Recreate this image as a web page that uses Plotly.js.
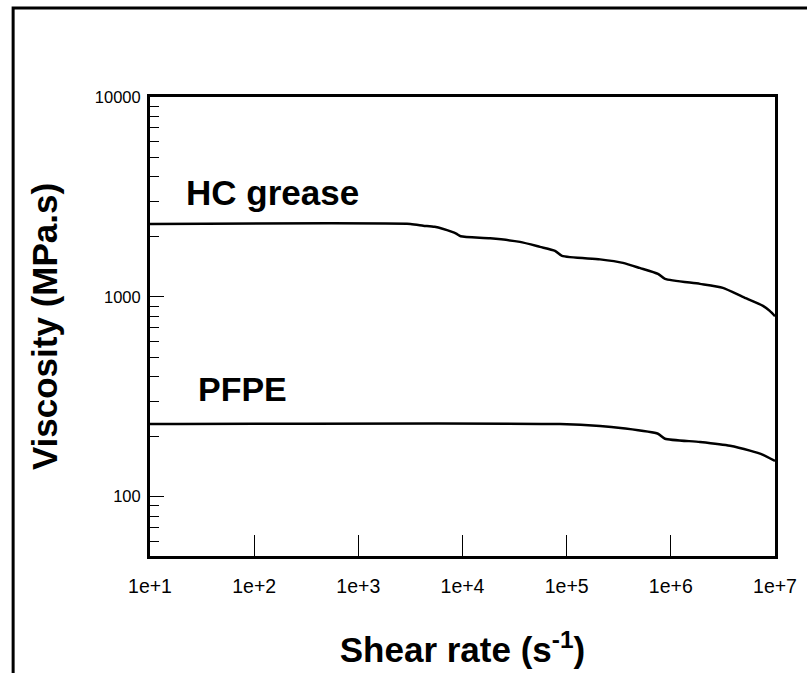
<!DOCTYPE html>
<html>
<head>
<meta charset="utf-8">
<script src="https://cdn.plot.ly/plotly-3.0.1.min.js"></script>
<style>
html,body{margin:0;padding:0;background:#fff;}
#chart{width:807px;height:673px;}
</style>
</head>
<body>
<div id="chart"></div>
<script>
// Shear rate (1/s) and viscosity (MPa.s)
const hcShear = [10, 3160, 4200, 5400, 7940, 8700, 9600, 18400, 35600, 55500, 77300, 90200, 209000, 347000, 501000, 753000, 879000, 1905000, 3160000, 4900000, 7670000, 8910000, 10000000];
const hcVisc  = [2317, 2315, 2270, 2240, 2113, 2070, 2010, 1962, 1884, 1778, 1698, 1603, 1540, 1479, 1396, 1303, 1230, 1161, 1109, 1000, 902, 851, 800];

const pfpeShear = [10, 86300, 209000, 347000, 753000, 879000, 1905000, 3700000, 5750000, 7670000, 10000000];
const pfpeVisc  = [231, 231, 226, 220, 206.5, 195, 188, 180, 170, 162, 151];

const xTickVals = [10, 100, 1000, 10000, 100000, 1000000, 10000000];
const xTickText = ['1e+1', '1e+2', '1e+3', '1e+4', '1e+5', '1e+6', '1e+7'];
const yTickVals = [100, 1000, 10000];
const yTickText = ['100', '1000', '10000'];
const yMinorVals = [60, 70, 80, 90, 200, 300, 400, 500, 600, 700, 800, 900, 2000, 3000, 4000, 5000, 6000, 7000, 8000, 9000];

const seriesLabels = ['HC grease', 'PFPE'];

const FONT = 'Liberation Sans, Arial, Helvetica, sans-serif';

const traces = [
  {x: hcShear, y: hcVisc, name: seriesLabels[0], type: 'scatter', mode: 'lines',
   line: {color: '#000', width: 2.5, shape: 'spline', smoothing: 0.6}},
  {x: pfpeShear, y: pfpeVisc, name: seriesLabels[1], type: 'scatter', mode: 'lines',
   line: {color: '#000', width: 2.5, shape: 'spline', smoothing: 0.6}}
];

const layout = {
  width: 807, height: 673,
  margin: {l: 150, r: 32, t: 97, b: 117},
  paper_bgcolor: '#fff', plot_bgcolor: '#fff',
  showlegend: false,
  font: {family: FONT, color: '#000'},
  xaxis: {
    type: 'log', range: [1, 7],
    tickmode: 'array', tickvals: xTickVals, ticktext: xTickText,
    ticks: 'inside', ticklen: 21, tickwidth: 1, tickcolor: '#000',
    showline: true, linewidth: 3, linecolor: '#000', mirror: true,
    showgrid: false, zeroline: false,
    tickfont: {family: FONT, size: 19.5, color: '#000'},
    ticklabelstandoff: 11,
    title: {text: 'Shear rate (s<sup>-1</sup>)', font: {family: FONT, size: 35, color: '#000', weight: 'bold'}, standoff: 42}
  },
  yaxis: {
    type: 'log', range: [Math.log10(50.5), 4],
    tickmode: 'array', tickvals: yTickVals, ticktext: yTickText,
    ticks: 'inside', ticklen: 14, tickwidth: 1, tickcolor: '#000',
    minor: {tickmode: 'array', tickvals: yMinorVals, ticks: 'inside', ticklen: 9, tickwidth: 1, tickcolor: '#000', showgrid: false},
    showline: true, linewidth: 3, linecolor: '#000', mirror: true,
    showgrid: false, zeroline: false,
    tickfont: {family: FONT, size: 16.5, color: '#000'},
    ticklabelstandoff: 3,
    title: {text: 'Viscosity (MPa.s)', font: {family: FONT, size: 35, color: '#000', weight: 'bold'}, standoff: 27}
  },
  annotations: [
    {x: Math.log10(150), y: Math.log10(3330), xref: 'x', yref: 'y', text: seriesLabels[0], showarrow: false,
     font: {family: FONT, size: 35, color: '#000', weight: 'bold'}},
    {x: Math.log10(78), y: Math.log10(347), xref: 'x', yref: 'y', text: seriesLabels[1], showarrow: false,
     font: {family: FONT, size: 34, color: '#000', weight: 'bold'}}
  ],
  shapes: [
    {type: 'rect', xref: 'paper', yref: 'paper', x0: -0.219, x1: 1.2, y0: -0.35, y1: 1.194,
     line: {color: '#000', width: 3}, fillcolor: 'rgba(0,0,0,0)', layer: 'below'}
  ]
};

Plotly.newPlot('chart', traces, layout, {displayModeBar: false, staticPlot: true});
</script>
</body>
</html>
